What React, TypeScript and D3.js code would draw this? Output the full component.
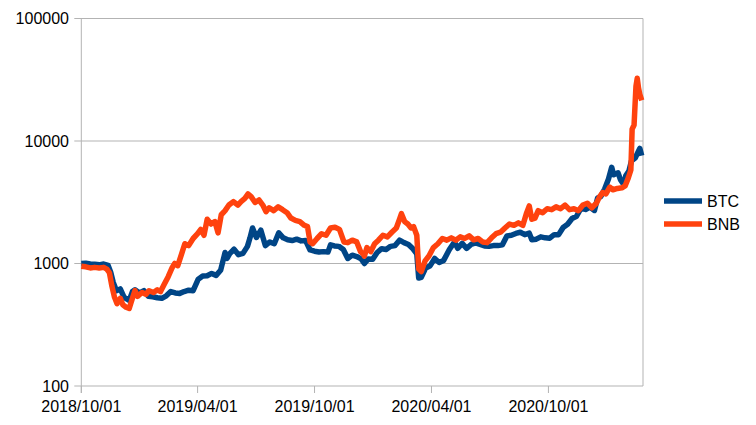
import React from "react";
import * as d3 from "d3";

const SERIES_NAMES = ["BTC", "BNB"];
const COLORS = ["#004586", "#ff420e"];
const X_TICK_DATES = ["2018-10-01", "2019-04-01", "2019-10-01", "2020-04-01", "2020-10-01"];
const X_TICK_LABELS = ["2018/10/01", "2019/04/01", "2019/10/01", "2020/04/01", "2020/10/01"];
const Y_TICKS = [100, 1000, 10000, 100000];
const X_DOMAIN = ["2018-10-01", "2021-02-26"];

const BTC_DATES = [
  "2018-10-01","2018-10-08","2018-10-15","2018-10-22","2018-10-29","2018-11-05","2018-11-12","2018-11-16","2018-11-20","2018-11-25",
  "2018-12-01","2018-12-07","2018-12-15","2018-12-20","2018-12-24","2018-12-31","2019-01-07","2019-01-14","2019-01-21","2019-01-28",
  "2019-02-04","2019-02-11","2019-02-18","2019-02-25","2019-03-04","2019-03-11","2019-03-18","2019-03-25","2019-04-02","2019-04-09",
  "2019-04-16","2019-04-23","2019-04-30","2019-05-07","2019-05-14","2019-05-17","2019-05-21","2019-05-28","2019-06-04","2019-06-11",
  "2019-06-18","2019-06-22","2019-06-26","2019-07-02","2019-07-09","2019-07-16","2019-07-23","2019-07-30","2019-08-06","2019-08-13",
  "2019-08-20","2019-08-27","2019-09-03","2019-09-10","2019-09-17","2019-09-24","2019-10-01","2019-10-08","2019-10-15","2019-10-22",
  "2019-10-26","2019-11-01","2019-11-08","2019-11-15","2019-11-22","2019-11-29","2019-12-06","2019-12-13","2019-12-18","2019-12-24",
  "2019-12-31","2020-01-07","2020-01-14","2020-01-21","2020-01-28","2020-02-04","2020-02-11","2020-02-18","2020-02-25","2020-03-03",
  "2020-03-09","2020-03-12","2020-03-16","2020-03-23","2020-03-30","2020-04-06","2020-04-13","2020-04-20","2020-04-29","2020-05-07",
  "2020-05-12","2020-05-19","2020-05-26","2020-06-02","2020-06-09","2020-06-16","2020-06-23","2020-06-30","2020-07-07","2020-07-14",
  "2020-07-21","2020-07-28","2020-08-04","2020-08-11","2020-08-18","2020-08-25","2020-09-01","2020-09-05","2020-09-12","2020-09-19",
  "2020-09-26","2020-10-03","2020-10-10","2020-10-17","2020-10-24","2020-10-31","2020-11-07","2020-11-14","2020-11-21","2020-11-28",
  "2020-12-05","2020-12-12","2020-12-17","2020-12-22","2020-12-28","2021-01-03","2021-01-08","2021-01-11","2021-01-18","2021-01-22",
  "2021-01-27","2021-01-30","2021-02-04","2021-02-08","2021-02-14","2021-02-21","2021-02-24"
];
const BTC_VALUES = [
  1000,1005,990,985,975,990,965,850,700,600,
  620,530,500,590,610,575,600,540,535,525,
  520,545,590,575,570,590,605,600,745,790,
  795,830,800,880,1230,1100,1200,1310,1180,1210,
  1380,1620,1950,1630,1870,1400,1500,1450,1780,1620,
  1560,1540,1580,1530,1540,1290,1260,1240,1250,1240,
  1420,1390,1380,1300,1100,1170,1140,1090,1000,1090,
  1085,1230,1320,1300,1380,1400,1550,1480,1430,1320,
  1200,760,770,920,960,1100,1020,1060,1300,1500,
  1330,1460,1330,1430,1470,1430,1390,1380,1400,1400,
  1420,1680,1700,1760,1800,1720,1770,1560,1580,1650,
  1620,1610,1720,1720,1970,2090,2330,2430,2830,2760,
  2890,2710,3430,3530,4050,4900,6100,5300,5500,4800,
  4400,5200,5700,6900,7300,8700,7600
];

const BNB_DATES = [
  "2018-10-01","2018-10-08","2018-10-15","2018-10-22","2018-10-29","2018-11-05","2018-11-10","2018-11-14","2018-11-18","2018-11-22",
  "2018-11-26","2018-12-01","2018-12-05","2018-12-10","2018-12-15","2018-12-20","2018-12-24","2018-12-28","2019-01-04","2019-01-10",
  "2019-01-15","2019-01-22","2019-01-28","2019-02-02","2019-02-08","2019-02-14","2019-02-20","2019-02-24","2019-03-01","2019-03-07",
  "2019-03-12","2019-03-18","2019-03-25","2019-04-01","2019-04-06","2019-04-11","2019-04-16","2019-04-22","2019-04-28","2019-05-03",
  "2019-05-08","2019-05-14","2019-05-20","2019-05-27","2019-06-03","2019-06-08","2019-06-14","2019-06-19","2019-06-24","2019-06-30",
  "2019-07-06","2019-07-12","2019-07-17","2019-07-22","2019-07-29","2019-08-05","2019-08-12","2019-08-19","2019-08-25","2019-09-01",
  "2019-09-08","2019-09-15","2019-09-20","2019-09-24","2019-09-28","2019-10-05","2019-10-12","2019-10-19","2019-10-26","2019-11-02",
  "2019-11-09","2019-11-16","2019-11-22","2019-11-29","2019-12-06","2019-12-12","2019-12-16","2019-12-18","2019-12-22","2019-12-28",
  "2020-01-03","2020-01-09","2020-01-16","2020-01-23","2020-01-30","2020-02-06","2020-02-11","2020-02-14","2020-02-19","2020-02-24",
  "2020-02-29","2020-03-04","2020-03-09","2020-03-12","2020-03-16","2020-03-22","2020-03-28","2020-04-04","2020-04-11","2020-04-18",
  "2020-04-25","2020-05-02","2020-05-09","2020-05-16","2020-05-23","2020-05-30","2020-06-06","2020-06-13","2020-06-20","2020-06-27",
  "2020-07-04","2020-07-11","2020-07-18","2020-07-25","2020-08-01","2020-08-08","2020-08-15","2020-08-22","2020-08-28","2020-09-01",
  "2020-09-05","2020-09-10","2020-09-15","2020-09-22","2020-09-29","2020-10-06","2020-10-13","2020-10-20","2020-10-27","2020-11-03",
  "2020-11-10","2020-11-17","2020-11-24","2020-12-01","2020-12-08","2020-12-15","2020-12-20","2020-12-25","2020-12-30","2021-01-05",
  "2021-01-10","2021-01-17","2021-01-24","2021-01-29","2021-02-03","2021-02-07","2021-02-09","2021-02-12","2021-02-15","2021-02-17",
  "2021-02-19","2021-02-21","2021-02-24"
];
const BNB_VALUES = [
  950,940,920,930,920,930,900,840,650,530,
  470,520,460,440,430,520,600,540,580,560,
  600,580,610,590,680,780,920,1000,960,1200,
  1450,1400,1600,1750,1900,1700,2300,2100,2200,1780,
  2500,2700,3000,3200,3000,3200,3400,3700,3500,3150,
  3300,3000,2650,2850,2700,2900,2750,2600,2350,2250,
  2200,2050,2000,1500,1450,1600,1750,1700,1950,1980,
  1900,1500,1480,1550,1500,1250,1200,1150,1350,1250,
  1450,1550,1700,1650,1800,1950,2300,2550,2200,2100,
  1950,2000,1700,900,860,1050,1150,1350,1450,1600,
  1550,1620,1550,1650,1600,1680,1560,1600,1500,1480,
  1620,1750,1800,1950,2100,2050,2150,2050,2600,2950,
  2300,2350,2700,2600,2800,2750,2900,2800,3000,2750,
  2800,2700,3000,3100,2850,3100,3500,3800,3700,4200,
  4000,4100,4150,4300,5000,5800,12500,13500,28000,32500,
  27000,24000,21500
];

const W = 756;
const H = 425;
const LEFT = 81.3;
const RIGHT = 643;
const TOP = 18.5;
const BOTTOM = 386;
const FONT = "'Liberation Sans', Arial, sans-serif";

export default function App() {
  const parse = d3.utcParse("%Y-%m-%d");
  const x = d3
    .scaleUtc()
    .domain([parse(X_DOMAIN[0]) as Date, parse(X_DOMAIN[1]) as Date])
    .range([LEFT, RIGHT]);
  const y = d3.scaleLog().domain([100, 100000]).range([BOTTOM, TOP]);

  const series = [
    { name: SERIES_NAMES[0], color: COLORS[0], dates: BTC_DATES, values: BTC_VALUES },
    { name: SERIES_NAMES[1], color: COLORS[1], dates: BNB_DATES, values: BNB_VALUES },
  ];

  const line = d3
    .line<[Date, number]>()
    .x((d) => x(d[0]))
    .y((d) => y(d[1]));

  const grid = "#b3b3b3";

  return (
    <svg
      width={W}
      height={H}
      style={{ position: "absolute", left: 0, top: 0, background: "#fff" }}
      fontFamily={FONT}
    >
      {Y_TICKS.map((t) => (
        <g key={t}>
          <line x1={LEFT - 7} x2={RIGHT} y1={y(t)} y2={y(t)} stroke={grid} strokeWidth={1} />
          <text x={69} y={y(t)} dy="0.35em" textAnchor="end" fontSize={16} fill="#000">
            {t}
          </text>
        </g>
      ))}
      <line x1={LEFT} x2={LEFT} y1={TOP} y2={BOTTOM + 7} stroke={grid} strokeWidth={1} />
      <line x1={RIGHT} x2={RIGHT} y1={TOP} y2={BOTTOM} stroke={grid} strokeWidth={1} />
      {X_TICK_DATES.map((d, i) => {
        const px = x(parse(d) as Date);
        return (
          <g key={d}>
            <line x1={px} x2={px} y1={BOTTOM} y2={BOTTOM + 7} stroke={grid} strokeWidth={1} />
            <text x={px} y={412} textAnchor="middle" fontSize={16} fill="#000">
              {X_TICK_LABELS[i]}
            </text>
          </g>
        );
      })}
      {series.map((s) => {
        const pts: [Date, number][] = s.dates.map((d, i) => [parse(d) as Date, s.values[i]]);
        return (
          <path
            key={s.name}
            d={line(pts) || ""}
            fill="none"
            stroke={s.color}
            strokeWidth={5.5}
            strokeLinejoin="round"
            strokeLinecap="butt"
          />
        );
      })}
      {series.map((s, i) => {
        const ly = 201 + i * 23;
        return (
          <g key={s.name}>
            <line x1={664} x2={702} y1={ly} y2={ly} stroke={s.color} strokeWidth={5.5} />
            <text x={707} y={ly} dy="0.36em" fontSize={16} fill="#000">
              {s.name}
            </text>
          </g>
        );
      })}
    </svg>
  );
}
